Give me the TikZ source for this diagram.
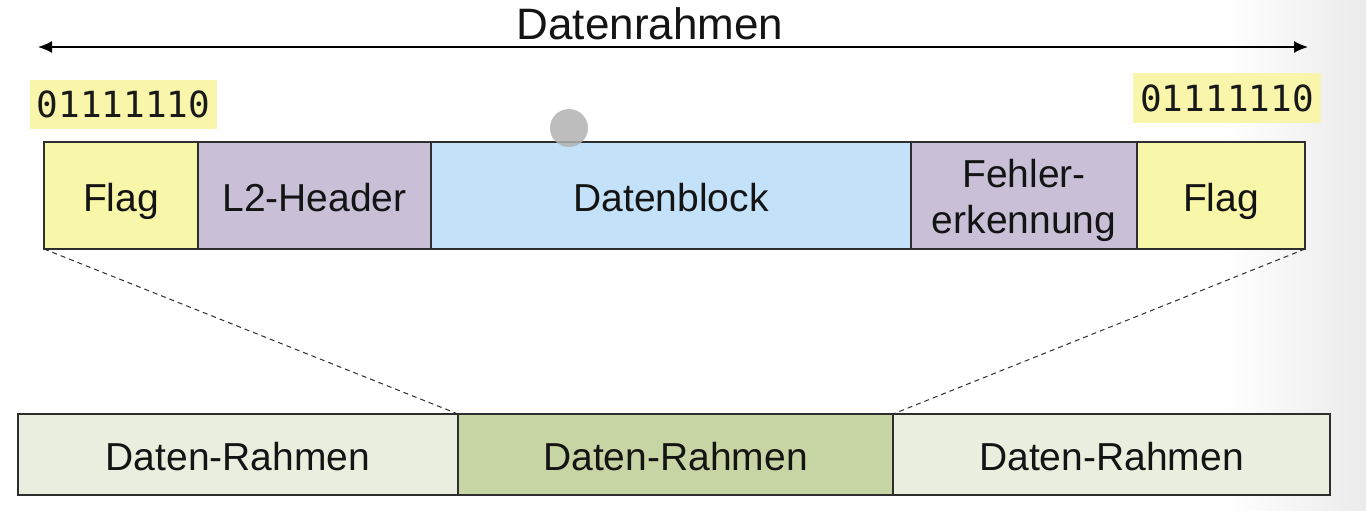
\documentclass[tikz,border=0pt]{standalone}
\usepackage{fontspec}
\setmainfont{Liberation Sans}
\newfontfamily\monofont{DejaVu Sans Mono}
\usetikzlibrary{arrows.meta}
\definecolor{flagY}{HTML}{F8F6A8}
\definecolor{hdrP}{HTML}{C9C0D8}
\definecolor{dataB}{HTML}{C3E1F8}
\definecolor{frL}{HTML}{EAEEDE}
\definecolor{frM}{HTML}{C6D5A3}
\definecolor{edge}{HTML}{2E2E2E}
\definecolor{hiY}{HTML}{F9F5AA}
\begin{document}
\begin{tikzpicture}[x=1pt,y=-1pt,
  box/.style={draw=edge,line width=1.5pt,rectangle,inner sep=0pt,outer sep=0pt,
    font=\fontsize{39}{46}\selectfont,text=black!92,align=center,
    text height=31pt,text depth=0pt},
  plainbox/.style={draw=edge,line width=1.5pt,rectangle,inner sep=0pt,outer sep=0pt},
  bits/.style={fill=hiY,rectangle,inner sep=0pt,outer sep=0pt,
    font=\monofont\fontsize{36}{40}\selectfont,text=black!90},
  conn/.style={draw=edge,line width=1pt,dash pattern=on 5pt off 4pt}]
\useasboundingbox (0,0) rectangle (1366,511);
\fill[left color=white,right color=black!8] (1225,0) rectangle (1366,511);
% title arrow
\node[font=\fontsize{44}{48}\selectfont,text=black!92] (title) at (650,24) {Datenrahmen};
\coordinate (aL) at (38,47);
\coordinate (aR) at (1308,47);
\draw[line width=1.7pt,{Latex[length=14pt,width=12pt]}-{Latex[length=14pt,width=12pt]}] (aL) -- (aR);
% flag bit labels
\node[bits,minimum width=187,minimum height=49] (bL) at (123.5,104.5) {01111110};
\node[bits,minimum width=188,minimum height=50] (bR) at (1227,98) {01111110};
% top frame
\node[box,fill=flagY,minimum width=154,minimum height=107] (f1) at (121,195.5) {Flag};
\node[box,fill=hdrP,minimum width=233,minimum height=107] (hd) at (314.5,195.5) {L2-Header};
\node[box,fill=dataB,minimum width=480,minimum height=107] (db) at (671,195.5) {Datenblock};
\node[plainbox,fill=hdrP,minimum width=226,minimum height=107] (fe) at (1024,195.5) {};
\node[font=\fontsize{39}{46}\selectfont,text=black!92,align=center,inner sep=0pt] (fet) at ([yshift=-5pt]fe.center) {Fehler-\\erkennung};
\node[box,fill=flagY,minimum width=168,minimum height=107] (f2) at (1221,195.5) {Flag};
% pointer dot
\fill[black!30,opacity=0.85] (569,128) circle (19);
% bottom frames
\node[box,fill=frL,minimum width=440,minimum height=81] (r1) at (238,454.5) {Daten-Rahmen};
\node[box,fill=frM,minimum width=435,minimum height=81] (r2) at (675.5,454.5) {Daten-Rahmen};
\node[box,fill=frL,minimum width=437,minimum height=81] (r3) at (1111.5,454.5) {Daten-Rahmen};
% dashed expansion lines
\draw[conn] (f1.south west) -- (r2.north west);
\draw[conn] (f2.south east) -- (r2.north east);
\end{tikzpicture}
\end{document}
